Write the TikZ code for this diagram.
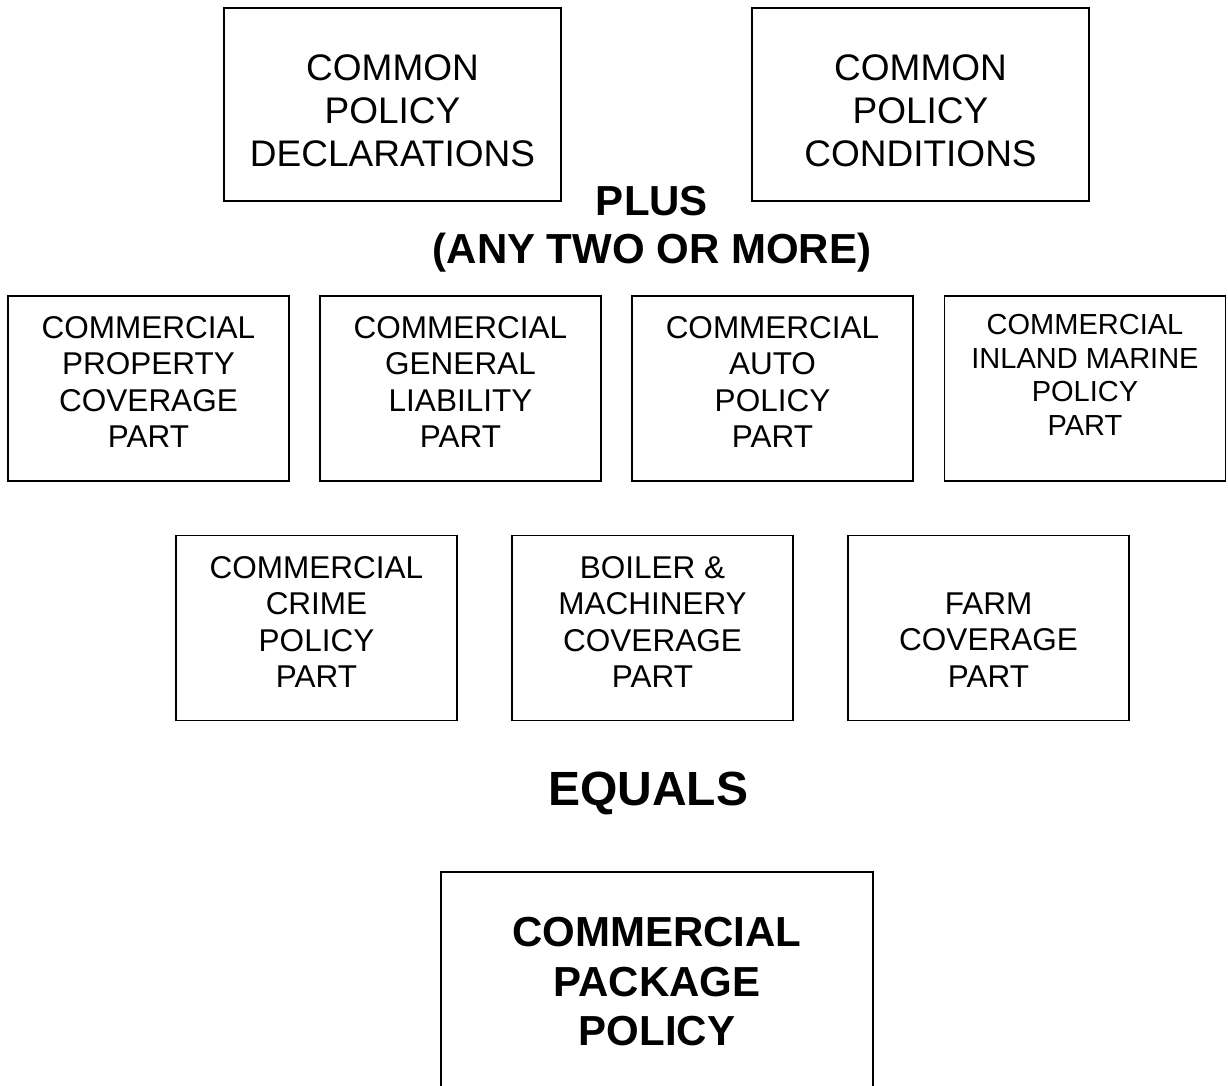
\documentclass[tikz,border=0pt]{standalone}
\usepackage{fontspec}
\setmainfont{Liberation Sans}
\begin{document}
\begin{tikzpicture}[x=1pt,y=-1pt,
  box/.style={draw=black, line width=1.6pt, rectangle, inner sep=0pt},
  topbox/.style={box, minimum width=337pt, minimum height=193pt},
  partbox/.style={box, minimum width=281pt, minimum height=185pt},
  toptxt/.style={align=center, inner sep=0pt, font=\fontsize{37}{43}\selectfont},
  parttxt/.style={align=center, inner sep=0pt, font=\fontsize{31.5}{36.5}\selectfont},
  smalltxt/.style={align=center, inner sep=0pt, font=\fontsize{29}{33.5}\selectfont},
  bigtxt/.style={align=center, inner sep=0pt, font=\bfseries\fontsize{42}{48}\selectfont}]
\useasboundingbox (0,0) rectangle (1228,1085);
% top boxes
\node[topbox] (decl) at (392.5,104.5) {};
\node[toptxt] (declt) at ([yshift=-6pt]decl.center) {COMMON\\POLICY\\DECLARATIONS};
\node[topbox] (cond) at (920.5,104.5) {};
\node[toptxt] (condt) at ([yshift=-6pt]cond.center) {COMMON\\POLICY\\CONDITIONS};
% plus
\node[bigtxt] (plus) at (652,229) {PLUS\\(ANY TWO OR MORE)};
% row 2
\node[partbox] (prop) at (148.5,388.5) {};
\node[parttxt] (propt) at ([yshift=6.5pt]prop.center) {COMMERCIAL\\PROPERTY\\COVERAGE\\PART};
\node[partbox] (gl) at (460.5,388.5) {};
\node[parttxt] (glt) at ([yshift=6.5pt]gl.center) {COMMERCIAL\\GENERAL\\LIABILITY\\PART};
\node[partbox] (auto) at (772.5,388.5) {};
\node[parttxt] (autot) at ([yshift=6.5pt]auto.center) {COMMERCIAL\\AUTO\\POLICY\\PART};
\node[partbox] (im) at (1085,388.5) {};
\node[smalltxt] (imt) at ([yshift=13.5pt]im.center) {COMMERCIAL\\INLAND MARINE\\POLICY\\PART};
% row 3
\node[partbox] (crime) at (316.5,628) {};
\node[parttxt] (crimet) at ([yshift=6pt]crime.center) {COMMERCIAL\\CRIME\\POLICY\\PART};
\node[partbox] (boil) at (652.5,628) {};
\node[parttxt] (boilt) at ([yshift=6pt]boil.center) {BOILER \&\\MACHINERY\\COVERAGE\\PART};
\node[partbox] (farm) at (988.5,628) {};
\node[parttxt] (farmt) at ([yshift=-12pt]farm.center) {FARM\\COVERAGE\\PART};
% equals
\node[align=center, inner sep=0pt, font=\bfseries\fontsize{48}{56}\selectfont] (eq) at (648,793.5) {EQUALS};
% bottom box
\node[box, minimum width=432pt, minimum height=222pt] (pkg) at (657,983) {};
\node[align=center, inner sep=0pt, font=\bfseries\fontsize{42}{49.5}\selectfont] (pkgt) at (657,982) {COMMERCIAL\\PACKAGE\\POLICY};
\end{tikzpicture}
\end{document}
